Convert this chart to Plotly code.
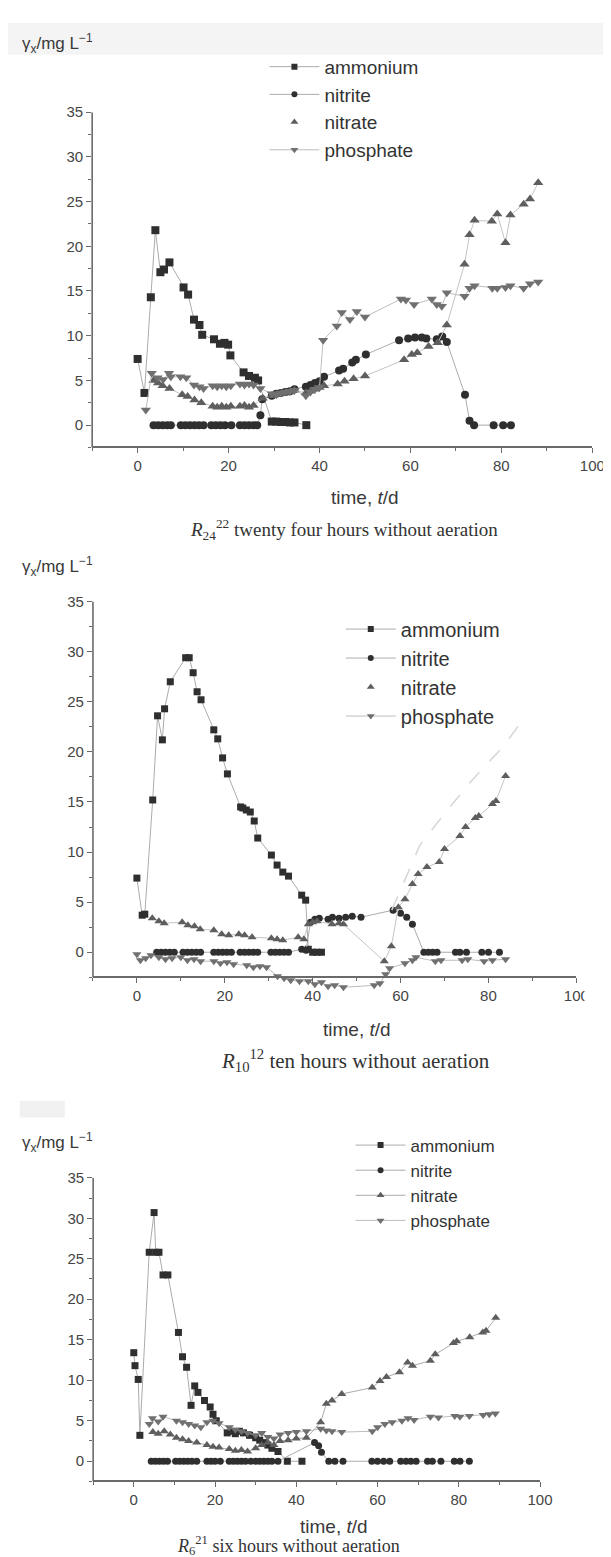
import plotly.graph_objects as go

W, H = 611, 1557

# ---------------- data: panel 1 (R24, twenty four hours) ----------------
A1_t = [0, 1.5, 2.9, 3.9, 5.0, 5.8, 7.0, 10.1, 11.1, 12.4, 13.6, 14.2, 16.8, 18.1, 19.1, 19.9, 20.4, 23.3, 24.5, 25.8, 26.5, 29.5, 30.5, 31.5, 32.5, 33.5, 34.5, 37.1]
A1_v = [7.4, 3.6, 14.3, 21.8, 17.1, 17.4, 18.2, 15.4, 14.6, 11.8, 11.2, 10.1, 9.6, 9.1, 9.2, 9.0, 7.8, 5.9, 5.5, 5.3, 5.0, 0.4, 0.4, 0.35, 0.35, 0.3, 0.3, 0.0]
N1_t = [3.5, 4.5, 5.5, 6.5, 7.3, 9.5, 10.5, 11.5, 12.5, 13.5, 14.5, 16.2, 17.2, 18.2, 19.2, 20.6, 22.5, 23.5, 24.5, 25.5, 26.3, 27.0, 27.4, 29.5, 30.5, 31.5, 32.5, 33.5, 34.5, 37.0, 38.0, 39.0, 40.0, 41.0, 44.3, 45.2, 47.2, 48.0, 50.2, 57.5, 59.5, 61.0, 62.5, 63.5, 65.8, 67.0, 68.0, 72.0, 73.0, 74.0, 78.3, 80.4, 82.1]
N1_v = [0, 0, 0, 0, 0, 0, 0, 0, 0, 0, 0, 0, 0, 0, 0, 0, 0, 0, 0, 0, 0, 1.1, 2.9, 3.3, 3.5, 3.6, 3.7, 3.8, 4.0, 4.3, 4.5, 4.7, 4.9, 5.4, 6.1, 6.3, 7.0, 7.3, 7.9, 9.5, 9.7, 9.8, 9.8, 9.7, 9.6, 9.9, 9.3, 3.4, 0.5, 0, 0, 0, 0]
NO1_t = [3.5, 4.5, 5.5, 7.0, 9.8, 11.0, 12.5, 14.0, 16.5, 17.5, 18.5, 19.5, 20.5, 22.5, 23.5, 24.5, 25.5, 27.5, 29.5, 30.5, 31.5, 32.5, 33.5, 34.5, 37.0, 38.0, 39.0, 40.0, 41.0, 44.0, 45.5, 47.5, 50.0, 58.6, 60.3, 61.5, 64.0, 66.0, 68.0, 71.9, 73.0, 74.1, 77.9, 79.1, 80.9, 82.0, 84.9, 86.3, 88.1]
NO1_v = [5.0, 4.7, 4.4, 4.1, 3.4, 3.2, 2.8, 2.5, 2.1, 2.0, 2.1, 2.0, 2.1, 2.1, 2.2, 2.0, 2.2, 3.0, 3.3, 3.4, 3.5, 3.6, 3.7, 3.9, 3.6, 3.8, 4.0, 4.2, 4.4, 4.6, 4.9, 5.2, 5.5, 7.3, 7.9, 8.1, 8.8, 9.2, 11.2, 18.0, 21.3, 22.9, 22.8, 23.6, 20.4, 23.5, 24.7, 25.3, 27.1]
P1_t = [1.8, 3.1, 4.4, 5.6, 6.9, 7.3, 9.4, 10.7, 12.4, 13.6, 14.5, 16.5, 17.5, 18.5, 19.5, 20.5, 22.5, 23.5, 24.5, 25.5, 27.0, 29.5, 30.5, 31.5, 32.5, 33.5, 34.5, 37.0, 38.0, 39.0, 40.0, 40.8, 43.8, 44.9, 46.7, 48.2, 50.0, 57.9, 59.0, 60.8, 64.7, 65.8, 66.9, 68.0, 71.9, 73.0, 74.1, 78.0, 79.1, 80.9, 82.0, 84.9, 86.3, 88.1]
P1_v = [1.7, 5.8, 5.3, 5.1, 5.8, 5.4, 5.4, 5.3, 4.5, 4.3, 4.1, 4.4, 4.3, 4.4, 4.3, 4.4, 4.6, 4.5, 4.6, 4.5, 4.1, 3.5, 3.4, 3.6, 3.7, 3.8, 3.9, 3.3, 3.7, 4.0, 4.2, 9.5, 11.1, 12.6, 11.8, 12.7, 12.1, 14.1, 14.0, 13.5, 14.1, 13.5, 13.3, 14.8, 14.4, 15.3, 15.6, 15.3, 15.3, 15.4, 15.6, 15.3, 15.8, 16.0]

# ---------------- data: panel 2 (R10, ten hours) ----------------
A2_t = [0, 1.2, 1.8, 3.6, 4.7, 5.8, 6.3, 7.6, 11.1, 11.9, 12.8, 13.7, 14.6, 17.5, 18.4, 19.5, 20.6, 23.6, 24.1, 24.9, 25.8, 26.7, 27.5, 30.6, 31.9, 33.2, 34.5, 37.5, 38.4, 39.0, 40.0, 41.0, 42.0]
A2_v = [7.4, 3.7, 3.8, 15.2, 23.6, 21.2, 24.3, 27.0, 29.4, 29.4, 27.9, 26.0, 25.2, 22.2, 21.3, 19.4, 17.8, 14.5, 14.4, 14.2, 14.0, 13.1, 11.4, 9.7, 8.7, 8.0, 7.6, 5.7, 5.2, 0.3, 0.0, 0.0, 0.0]
N2_t = [4.5, 5.5, 6.5, 7.5, 8.5, 10.5, 11.5, 12.5, 13.5, 14.5, 17.5, 18.5, 19.5, 20.5, 21.5, 23.5, 24.5, 25.5, 26.5, 27.5, 30.5, 31.5, 32.5, 33.5, 34.5, 37.5, 38.5, 39.5, 40.5, 41.5, 43.5, 44.5, 46.0, 47.5, 49.0, 51.0, 58.3, 60.0, 61.4, 62.7, 65.3, 66.3, 67.3, 68.3, 72.5, 73.5, 75.0, 78.5, 80.0, 82.5]
N2_v = [0, 0, 0, 0, 0, 0, 0, 0, 0, 0, 0, 0, 0, 0, 0, 0, 0, 0, 0, 0, 0, 0, 0, 0, 0, 0.3, 0.2, 3.0, 3.3, 3.4, 3.3, 3.5, 3.4, 3.5, 3.6, 3.5, 4.2, 3.9, 3.5, 2.8, 0, 0, 0, 0, 0, 0, 0, 0, 0, 0]
NO2_t = [3.5, 5.0, 6.2, 10.3, 11.6, 13.1, 14.4, 17.5, 19.3, 20.9, 23.2, 24.5, 26.2, 30.6, 31.9, 33.2, 36.7, 38.0, 39.0, 40.0, 41.0, 44.4, 46.0, 47.0, 56.3, 57.9, 59.5, 61.0, 62.7, 64.0, 66.0, 68.8, 70.0, 73.5, 74.8, 77.0, 77.8, 80.9, 81.7, 83.9]
NO2_v = [3.4, 3.1, 2.9, 3.0, 2.7, 2.6, 2.3, 2.2, 1.8, 1.7, 1.8, 1.7, 1.5, 1.4, 1.3, 1.2, 1.5, 1.3, 2.8, 3.0, 3.1, 2.8, 2.9, 2.8, -0.9, 0.6, 4.5, 5.3, 6.8, 7.8, 8.5, 9.0, 10.3, 11.6, 12.5, 13.4, 13.6, 14.8, 15.1, 17.6]
P2_t = [0, 0.8, 2.0, 3.2, 5.0, 6.5, 8.0, 10.0, 11.5, 13.0, 14.5, 17.5, 19.0, 20.5, 22.0, 25.0, 26.5, 28.0, 29.5, 32.0, 33.5, 35.0, 37.0, 39.0, 40.5, 42.0, 43.5, 45.0, 47.0, 54.0, 55.3, 56.6, 57.5, 61.0, 62.7, 63.5, 67.9, 69.2, 74.0, 75.3, 79.0, 80.9, 83.9]
P2_v = [-0.2, -0.8, -0.6, -0.3, -0.5, -0.7, -0.6, -0.5, -0.8, -0.7, -0.9, -0.9, -1.1, -1.0, -1.2, -1.3, -1.5, -1.4, -1.5, -2.4, -2.6, -2.8, -2.9, -2.9, -3.2, -3.0, -3.4, -3.3, -3.5, -3.3, -3.1, -2.2, -1.6, -1.1, -0.8, -0.5, -0.9, -0.8, -0.8, -0.7, -0.9, -0.8, -0.7]
F2_t = [58.0, 64.4, 69.6, 75.7, 83.5, 87.8]
F2_v = [4.2, 10.7, 13.6, 16.9, 20.6, 23.2]

# ---------------- data: panel 3 (R6, six hours) ----------------
A3_t = [0, 0.3, 1.1, 1.5, 3.8, 5.0, 5.4, 6.2, 7.2, 8.4, 11.0, 12.0, 13.0, 14.1, 15.0, 15.8, 17.4, 18.8, 19.5, 20.3, 23.0, 24.0, 25.0, 26.0, 27.0, 28.5, 30.0, 31.0, 32.0, 33.0, 34.0, 35.5, 37.8, 41.4]
A3_v = [13.4, 11.8, 10.1, 3.2, 25.8, 30.7, 25.8, 25.8, 23.0, 23.0, 15.9, 12.9, 11.6, 6.9, 9.3, 8.5, 7.5, 6.7, 5.8, 5.0, 3.5, 3.7, 3.4, 3.7, 3.5, 3.2, 2.9, 2.6, 2.3, 2.0, 1.6, 1.2, 0.0, 0.0]
N3_t = [4.3, 5.3, 6.3, 7.3, 8.3, 10.3, 11.3, 12.3, 13.3, 14.3, 15.5, 18.0, 19.0, 20.0, 21.3, 23.5, 24.5, 25.5, 26.5, 27.5, 28.8, 30.0, 31.0, 32.0, 33.0, 34.0, 35.5, 44.5, 45.5, 46.2, 48.0, 49.5, 51.5, 58.6, 60.0, 61.5, 63.0, 65.7, 67.0, 68.2, 69.5, 72.3, 73.5, 75.6, 78.9, 80.3, 82.6]
N3_v = [0, 0, 0, 0, 0, 0, 0, 0, 0, 0, 0, 0, 0, 0, 0, 0, 0, 0, 0, 0, 0, 0, 0, 0, 0, 0, 0, 2.3, 1.9, 1.1, 0, 0, 0, 0, 0, 0, 0, 0, 0, 0, 0, 0, 0, 0, 0, 0, 0]
NO3_t = [4.7, 6.0, 7.5, 9.0, 10.5, 12.0, 13.5, 15.5, 18.0, 19.5, 21.0, 23.5, 25.0, 26.5, 28.0, 30.0, 31.5, 33.0, 34.5, 36.0, 38.0, 40.0, 42.5, 46.0, 47.4, 48.8, 51.2, 58.7, 60.6, 62.2, 65.4, 67.4, 68.6, 73.0, 74.2, 78.7, 79.5, 82.7, 85.9, 86.7, 89.1]
NO3_v = [3.6, 3.4, 3.7, 3.3, 2.9, 2.7, 2.5, 2.3, 2.0, 1.8, 1.7, 1.5, 1.3, 1.4, 1.2, 1.6, 2.0, 2.3, 2.0, 2.5, 2.6, 2.8, 2.9, 4.8, 7.1, 7.5, 8.3, 9.1, 9.9, 10.4, 11.0, 12.2, 11.8, 12.4, 13.2, 14.6, 14.8, 15.3, 15.9, 16.1, 17.7]
P3_t = [3.8, 4.6, 6.0, 7.2, 10.5, 12.0, 13.5, 15.0, 16.5, 18.0, 19.5, 21.0, 23.5, 25.0, 26.5, 28.0, 30.0, 31.5, 33.0, 34.5, 36.0, 38.0, 40.0, 42.5, 46.0, 47.4, 48.8, 51.2, 58.7, 60.0, 61.8, 63.6, 66.0, 67.5, 69.0, 73.0, 75.0, 79.0, 80.3, 82.6, 86.0, 87.5, 89.0]
P3_v = [4.6, 5.3, 4.9, 5.5, 5.0, 4.8, 4.6, 4.4, 4.2, 4.8, 5.0, 4.7, 4.2, 3.9, 3.7, 3.5, 3.2, 3.5, 3.0, 2.8, 3.3, 3.5, 3.6, 3.7, 4.0, 3.8, 3.7, 3.6, 3.7, 4.2, 4.6, 4.8, 5.0, 5.3, 5.1, 5.5, 5.4, 5.6, 5.5, 5.6, 5.7, 5.8, 5.9]

SERIES = ["ammonium", "nitrite", "nitrate", "phosphate"]
X_TICKS = [0, 20, 40, 60, 80, 100]
Y_TICKS = [0, 5, 10, 15, 20, 25, 30, 35]
CAPTIONS = ["<i>R</i><sub>24</sub><sup>22</sup> twenty four hours without aeration",
            "<i>R</i><sub>10</sub><sup>12</sup> ten hours without aeration",
            "<i>R</i><sub>6</sub><sup>21</sup> six hours without aeration"]

SANS = "Liberation Sans, Arial, sans-serif"
SERIF = "Liberation Serif, Times New Roman, serif"

def fx(p):
    return p / W

def fy(p):
    return 1 - p / H

# panel geometry in pixels: x0 = x of t=-10, x1 = x of t=100,
# ytop = y of value 35, yaxis = y of value -2.5 (x-axis line), ybot = bottom of plotting area
GEOM = {
    1: dict(x0=86, x1=597, ytop=95.7, yaxis=433, ybot=433, ymin=-2.5),
    2: dict(x0=86.8, x1=580.7, ytop=588, yaxis=966, ybot=983, ymin=-4.2),
    3: dict(x0=87, x1=543.6, ytop=1167.5, yaxis=1473, ybot=1473, ymin=-2.5),
}

fig = go.Figure()

DARK = "#2f2f2f"
MID = "#5e5e5e"
LIGHT = "#707070"
LINE = "#ababab"
AXC = "#6a6a6a"
SYMS = ["square", "circle", "triangle-up", "triangle-down"]
MCOL = [DARK, DARK, MID, LIGHT]

def add_panel(k, data, msize, nitrate_legend_line):
    xa = "x" if k == 1 else f"x{k}"
    ya = "y" if k == 1 else f"y{k}"
    leg = "legend" if k == 1 else f"legend{k}"
    common = dict(xaxis=xa, yaxis=ya, legend=leg, cliponaxis=False, showlegend=False)
    lcols = [LINE, LINE, LINE if nitrate_legend_line else "#c4c4c4", "#bdbdbd"]
    for i, (t, v) in enumerate(data):
        extra = 1 if i >= 2 else 0
        fig.add_trace(go.Scatter(x=t, y=v, name=SERIES[i], mode="lines+markers",
                                 line=dict(color=lcols[i], width=1),
                                 marker=dict(symbol=SYMS[i], size=msize + extra, color=MCOL[i]),
                                 **common))
    # legend entries (smaller symbols, as in the original legend boxes)
    for i in range(4):
        lmode = "markers" if (i == 2 and not nitrate_legend_line) else "lines+markers"
        extra = 1 if i >= 2 else 0
        fig.add_trace(go.Scatter(x=[None], y=[None], name=SERIES[i], mode=lmode, xaxis=xa, yaxis=ya,
                                 legend=leg, showlegend=True,
                                 line=dict(color=lcols[i], width=1),
                                 marker=dict(symbol=SYMS[i], size=6 + extra, color=MCOL[i])))

add_panel(1, [(A1_t, A1_v), (N1_t, N1_v), (NO1_t, NO1_v), (P1_t, P1_v)], 8, False)
add_panel(2, [(A2_t, A2_v), (N2_t, N2_v), (NO2_t, NO2_v), (P2_t, P2_v)], 7, False)
fig.add_trace(go.Scatter(x=F2_t, y=F2_v, mode="lines", showlegend=False, xaxis="x2", yaxis="y2",
                         line=dict(color="#d6d6d6", width=1.5, dash="longdash"), hoverinfo="skip"))
add_panel(3, [(A3_t, A3_v), (N3_t, N3_v), (NO3_t, NO3_v), (P3_t, P3_v)], 7, True)

axis_common = dict(ticks="outside", ticklen=5, tickwidth=1.3, tickcolor=AXC, showgrid=False,
                   zeroline=False, tickfont=dict(family=SANS, size=15, color="#454545"))

layout = dict(width=W, height=H, margin=dict(l=0, r=0, t=0, b=0), autosize=False,
              paper_bgcolor="white", plot_bgcolor="rgba(0,0,0,0)", showlegend=True)

legend_geo = {1: dict(x=262, y=31, size=19), 2: dict(x=340, y=596, size=20), 3: dict(x=350, y=1117, size=17)}

shapes = [
    dict(type="rect", xref="paper", yref="paper", x0=0, x1=1, y0=fy(38), y1=fy(6),
         fillcolor="#f4f4f4", line=dict(width=0), layer="below"),
    dict(type="rect", xref="paper", yref="paper", x0=fx(12), x1=fx(58), y0=fy(1107), y1=fy(1090),
         fillcolor="#f1f1f1", line=dict(width=0), layer="below"),
]

for k in (1, 2, 3):
    g = GEOM[k]
    xk = "xaxis" if k == 1 else f"xaxis{k}"
    yk = "yaxis" if k == 1 else f"yaxis{k}"
    lk = "legend" if k == 1 else f"legend{k}"
    ya = "y" if k == 1 else f"y{k}"
    layout[xk] = dict(axis_common, showline=True, linecolor=AXC, linewidth=1.6,
                      domain=[fx(g["x0"]), fx(g["x1"])], range=[-10, 100],
                      tickvals=X_TICKS, anchor="free", position=fy(g["yaxis"]),
                      minor=dict(ticks="outside", ticklen=3, tickcolor=AXC, dtick=10, tick0=0))
    layout[yk] = dict(axis_common, showline=False,
                      domain=[fy(g["ybot"]), fy(g["ytop"])], range=[g["ymin"], 35],
                      tickvals=Y_TICKS, anchor="x" if k == 1 else f"x{k}",
                      minor=dict(ticks="outside", ticklen=3, tickcolor=AXC, dtick=2.5, tick0=0))
    # y-axis line from the x-axis (-2.5) to the top (35)
    shapes.append(dict(type="line", xref="paper", yref=ya, x0=fx(g["x0"]), x1=fx(g["x0"]),
                       y0=-2.5, y1=35, line=dict(color=AXC, width=1.6)))
    lg = legend_geo[k]
    layout[lk] = dict(x=fx(lg["x"]), y=fy(lg["y"]), xanchor="left", yanchor="top",
                      bgcolor="rgba(0,0,0,0)", itemwidth=50,
                      font=dict(family=SANS, size=lg["size"], color="#333"))

# white strip that crops the right edge of the middle panel's last tick label
shapes.append(dict(type="rect", xref="paper", yref="paper", x0=fx(589), x1=1, y0=fy(995), y1=fy(969),
                   fillcolor="white", line=dict(width=0), layer="above"))

annotations = []
ylab_y = {1: 27, 2: 553, 3: 1132}
xtitle = {1: (365, 483), 2: (357, 1018), 3: (333, 1518)}
capt = {1: (343, 515, 19), 2: (355, 1050, 21), 3: (287, 1537, 18)}
for k in (1, 2, 3):
    annotations.append(dict(text="γ<sub>x</sub>/mg L<sup>−1</sup>", xref="paper", yref="paper",
                            x=fx(12), y=fy(ylab_y[k]), xanchor="left", yanchor="middle", showarrow=False,
                            font=dict(family=SANS, size=17, color="#3a3a3a")))
    tx, ty = xtitle[k]
    annotations.append(dict(text="time, <i>t</i>/d", xref="paper", yref="paper",
                            x=fx(tx), y=fy(ty), xanchor="center", yanchor="middle", showarrow=False,
                            font=dict(family=SANS, size=19, color="#3a3a3a")))
    cx, cy, cs = capt[k]
    annotations.append(dict(text=CAPTIONS[k - 1], xref="paper", yref="paper",
                            x=fx(cx), y=fy(cy), xanchor="center", yanchor="middle", showarrow=False,
                            font=dict(family=SERIF, size=cs, color="#333")))
layout["annotations"] = annotations
layout["shapes"] = shapes

fig.update_layout(**layout)
fig.write_html("out.html")
